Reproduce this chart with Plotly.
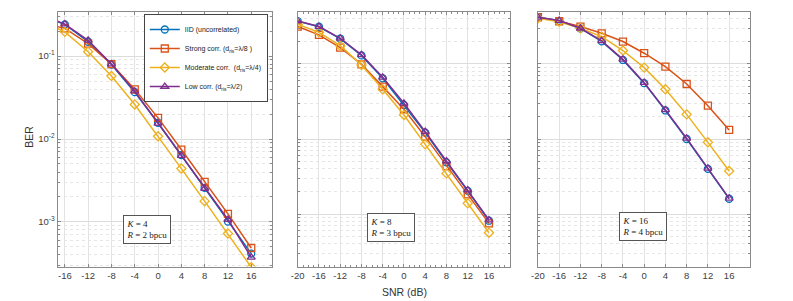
import math
import plotly.graph_objects as go

snr = [-20, -16, -12, -8, -4, 0, 4, 8, 12, 16]
x_ticks = [-20, -16, -12, -8, -4, 0, 4, 8, 12, 16]

series_names = ["IID (uncorrelated)",
                "Strong corr. (d<sub>ris</sub>=λ/8 )",
                "Moderate corr.  (d<sub>ris</sub>=λ/4)",
                "Low corr. (d<sub>ris</sub>=λ/2)"]
colors = ["#0072BD", "#D95319", "#EDB120", "#7E2F8E"]
symbols = ["circle-open", "square-open", "diamond-open", "triangle-up-open"]

# Panel 1: K=4, R=2 bpcu
k4_iid = [0.305, 0.241, 0.149, 0.079, 0.0367, 0.0157, 0.00638, 0.00258, 0.00101, 0.000415]
k4_strong = [0.251, 0.216, 0.141, 0.080, 0.0397, 0.0180, 0.00746, 0.00304, 0.00125, 0.000485]
k4_mod = [0.26, 0.196, 0.113, 0.0574, 0.0261, 0.0108, 0.0044, 0.00178, 0.000724, 0.000284]
k4_low = [0.31, 0.243, 0.155, 0.080, 0.0377, 0.0154, 0.0063, 0.00253, 0.00107, 0.000374]

# Panel 2: K=8, R=3 bpcu
k8_iid = [0.372, 0.313, 0.218, 0.130, 0.0644, 0.0284, 0.01215, 0.00489, 0.00204, 0.000815]
k8_strong = [0.315, 0.244, 0.165, 0.099, 0.0499, 0.0249, 0.01074, 0.00436, 0.00183, 0.000751]
k8_mod = [0.338, 0.264, 0.175, 0.097, 0.0459, 0.0209, 0.00849, 0.00348, 0.00139, 0.000564]
k8_low = [0.374, 0.315, 0.220, 0.132, 0.0664, 0.0299, 0.01253, 0.00509, 0.00209, 0.000832]

# Panel 3: K=16, R=4 bpcu
k16_iid = [0.419, 0.376, 0.297, 0.200, 0.113, 0.0555, 0.0240, 0.0100, 0.00400, 0.00160]
k16_strong = [0.419, 0.371, 0.315, 0.256, 0.199, 0.139, 0.092, 0.0541, 0.0278, 0.0132]
k16_mod = [0.406, 0.365, 0.299, 0.231, 0.151, 0.0894, 0.0459, 0.0213, 0.00903, 0.00374]
k16_low = [0.419, 0.379, 0.299, 0.203, 0.115, 0.0564, 0.0244, 0.0102, 0.00406, 0.00162]

panels = [
    dict(data=[k4_iid, k4_strong, k4_mod, k4_low], label="<i>K</i> = 4<br><i>R</i> = 2 bpcu",
         xrange=[-17.25, 19.5], yrange=[2.9e-4, 0.345], xticks=x_ticks[1:], xminor=False,
         dom=[51, 267], box=(117, 215)),
    dict(data=[k8_iid, k8_strong, k8_mod, k8_low], label="<i>K</i> = 8<br><i>R</i> = 3 bpcu",
         xrange=[-20, 20], yrange=[2e-4, 0.5], xticks=x_ticks, xminor=True,
         dom=[293.3, 507.7], box=(363.5, 212.5)),
    dict(data=[k16_iid, k16_strong, k16_mod, k16_low], label="<i>K</i> = 16<br><i>R</i> = 4 bpcu",
         xrange=[-20, 20], yrange=[2e-4, 0.5], xticks=x_ticks, xminor=False,
         dom=[535.7, 750], box=(617.5, 212)),
]

W, H = 793, 301
top_px, bot_px = 11.5, 266.5
ydom = [(H - bot_px) / H, (H - top_px) / H]

major_y = [1e-4, 1e-3, 1e-2, 1e-1, 1]
minor_y = [m * d for d in [1e-4, 1e-3, 1e-2, 1e-1] for m in range(2, 10)]

fig = go.Figure()
axis_color = "#8a8a8a"
grid_color = "#e3e3e3"
tick_font = dict(family="Liberation Sans, Arial, sans-serif", size=9.5, color="#404040")

annotations = []
for pi, p in enumerate(panels):
    xa = "x" if pi == 0 else f"x{pi+1}"
    ya = "y" if pi == 0 else f"y{pi+1}"
    for si in range(4):
        fig.add_trace(go.Scatter(
            x=snr, y=p["data"][si], mode="lines+markers",
            name=series_names[si], legendgroup=str(si), showlegend=(pi == 0),
            line=dict(color=colors[si], width=1.5),
            marker=dict(symbol=symbols[si], size=7, color=colors[si],
                        line=dict(width=1.3, color=colors[si])),
            xaxis=xa, yaxis=ya, cliponaxis=True))
    xkey = "xaxis" if pi == 0 else f"xaxis{pi+1}"
    ykey = "yaxis" if pi == 0 else f"yaxis{pi+1}"
    xa_cfg = dict(domain=[p["dom"][0] / W, p["dom"][1] / W], range=p["xrange"],
                  tickmode="array", tickvals=p["xticks"], ticktext=[str(v) for v in p["xticks"]],
                  ticks="inside", ticklen=3, tickcolor=axis_color,
                  showline=True, linecolor=axis_color, linewidth=1, mirror="ticks",
                  showgrid=True, gridcolor=grid_color, gridwidth=1, zeroline=False,
                  tickfont=tick_font, anchor=ya)
    if p["xminor"]:
        xa_cfg["minor"] = dict(ticks="inside", ticklen=2, dtick=1, tickcolor=axis_color, showgrid=False)
    ya_cfg = dict(domain=ydom, type="log",
                  range=[math.log10(p["yrange"][0]), math.log10(p["yrange"][1])],
                  tickmode="array", tickvals=major_y,
                  ticktext=["10<sup>-4</sup>", "10<sup>-3</sup>", "10<sup>-2</sup>", "10<sup>-1</sup>", "10<sup>0</sup>"],
                  showticklabels=(pi == 0),
                  ticks="inside", ticklen=3, tickcolor=axis_color,
                  showline=True, linecolor=axis_color, linewidth=1, mirror="ticks",
                  showgrid=True, gridcolor="#dcdcdc", gridwidth=1, zeroline=False,
                  minor=dict(tickmode="array", tickvals=minor_y, ticks="inside", ticklen=2,
                             tickcolor=axis_color, showgrid=True, gridcolor="#e6e6e6",
                             griddash="dot", gridwidth=1),
                  tickfont=tick_font, anchor=xa)
    fig.update_layout(**{xkey: xa_cfg, ykey: ya_cfg})
    annotations.append(dict(
        x=p["box"][0] / W, y=(H - p["box"][1]) / H, xref="paper", yref="paper",
        xanchor="left", yanchor="top", align="left", showarrow=False,
        text=p["label"], font=dict(family="Liberation Serif, DejaVu Serif, serif", size=9, color="#222222"),
        bordercolor="#555555", borderwidth=1, borderpad=2.5, bgcolor="white"))

annotations.append(dict(x=22 / W, y=(H - 137) / H, xref="paper", yref="paper",
                        xanchor="center", yanchor="middle",
                        text="BER", textangle=-90, showarrow=False,
                        font=dict(family="Liberation Sans, Arial, sans-serif", size=10.5, color="#333333")))
annotations.append(dict(x=401 / W, y=(H - 292) / H, xref="paper", yref="paper",
                        xanchor="center", yanchor="middle",
                        text="SNR (dB)", showarrow=False,
                        font=dict(family="Liberation Sans, Arial, sans-serif", size=10.5, color="#333333")))

fig.update_layout(
    width=W, height=H, margin=dict(l=0, r=0, t=0, b=0),
    paper_bgcolor="white", plot_bgcolor="white",
    annotations=annotations,
    legend=dict(x=138 / W, y=(H - 14) / H, xanchor="left", yanchor="top",
                bgcolor="white", bordercolor="#444444", borderwidth=1,
                font=dict(family="Liberation Sans, Arial, sans-serif", size=7, color="#222222"),
                itemwidth=30, tracegroupgap=0),
)

fig.write_html("out.html", config={"displayModeBar": False},
               post_script="document.body.style.margin='0px';document.body.style.overflow='hidden';")
